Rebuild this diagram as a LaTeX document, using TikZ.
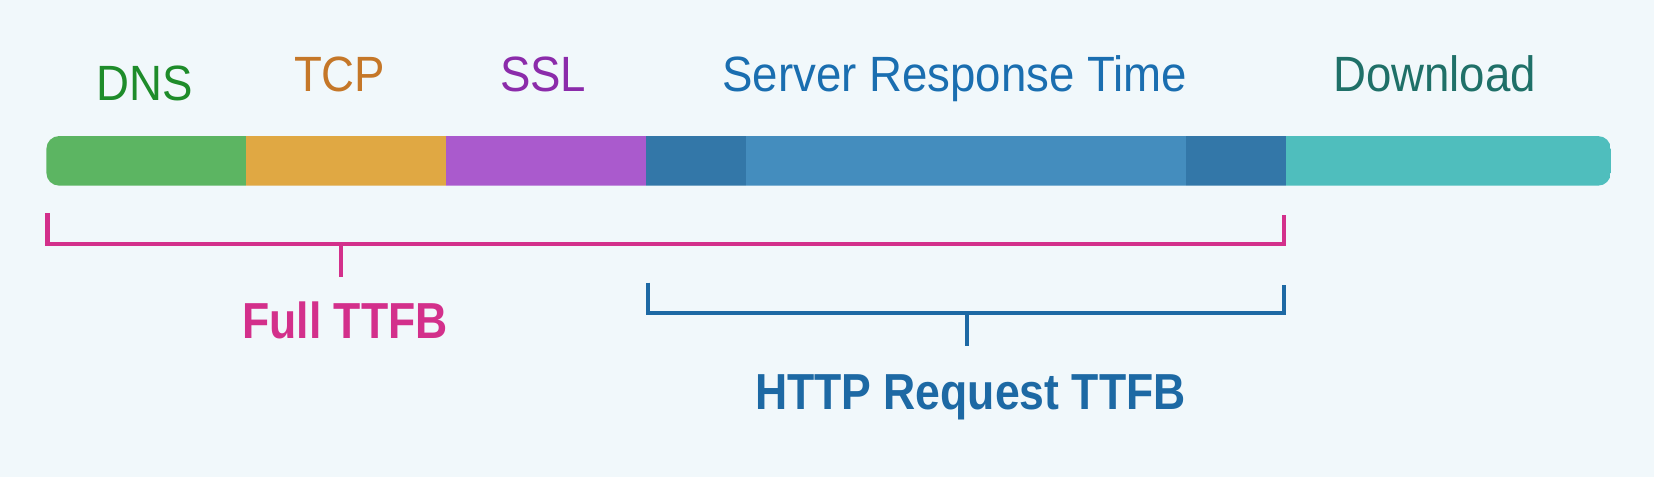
\documentclass[tikz,border=0pt]{standalone}
\usepackage{fontspec}
\setmainfont{Liberation Sans}[FakeStretch=0.92]
\newfontfamily\boldfam{Liberation Sans}[FakeStretch=0.88]
\definecolor{bgc}{HTML}{F1F8FB}
\definecolor{dnsT}{HTML}{1E8C2A}
\definecolor{tcpT}{HTML}{C57728}
\definecolor{sslT}{HTML}{8B2BAA}
\definecolor{srvT}{HTML}{1A6EB0}
\definecolor{dlT}{HTML}{1F7068}
\definecolor{dnsB}{HTML}{5CB562}
\definecolor{tcpB}{HTML}{E0A843}
\definecolor{sslB}{HTML}{AA5ACD}
\definecolor{srvD}{HTML}{3377A8}
\definecolor{srvM}{HTML}{448DBE}
\definecolor{dlB}{HTML}{4FBEBD}
\definecolor{pinkc}{HTML}{D3308B}
\definecolor{bluec}{HTML}{1D69A4}
\begin{document}
\begin{tikzpicture}[x=1pt,y=-1pt,
  lab/.style={anchor=base,inner sep=0pt,font=\fontsize{47}{52}\selectfont},
  blab/.style={anchor=base,inner sep=0pt,font=\fontsize{48}{54}\selectfont\boldfam\bfseries},
  brk/.style={line width=4pt,line cap=butt,line join=miter}]
\fill[bgc] (0,0) rectangle (1568,452.2);
\useasboundingbox (0,0) rectangle (1568,452.2);
% labels
\node[lab,text=dnsT] (dns) at (137,95) {DNS};
\node[lab,text=tcpT] (tcp) at (322,87) {TCP};
\node[lab,text=sslT] (ssl) at (515,87) {SSL};
\node[lab,text=srvT] (srv) at (905,87) {Server Response Time};
\node[lab,text=dlT] (dl) at (1360,87) {Download};
% bar
\begin{scope}
\clip[rounded corners=12pt] (44,129) rectangle (1527,176);
\fill[tcpB] (233,129) rectangle (423,176);
\fill[sslB] (423,129) rectangle (612,176);
\fill[srvD] (612,129) rectangle (707,176);
\fill[srvM] (707,129) rectangle (1124,176);
\fill[srvD] (1124,129) rectangle (1219,176);
\fill[dlB] (1219,129) rectangle (1527,176);
\fill[dnsB] (44,129) rectangle (233,176);
\end{scope}
% Full TTFB bracket
\coordinate (fa) at (45,202);
\coordinate (fb) at (45,231);
\coordinate (fc) at (1217,231);
\coordinate (fd) at (1217,204);
\coordinate (fm) at (323,231);
\coordinate (fs) at (323,263);
\draw[brk,pinkc] (fa) -- (fb) -- (fc) -- (fd);
\draw[brk,pinkc] (fm) -- (fs);
\node[blab,text=pinkc] (full) at (327,321) {Full TTFB};
% HTTP bracket
\coordinate (ha) at (614,268);
\coordinate (hb) at (614,297);
\coordinate (hc) at (1217,297);
\coordinate (hd) at (1217,270);
\coordinate (hm) at (917,297);
\coordinate (hs) at (917,328);
\draw[brk,bluec] (ha) -- (hb) -- (hc) -- (hd);
\draw[brk,bluec] (hm) -- (hs);
\node[blab,text=bluec] (http) at (920,388) {HTTP Request TTFB};
\end{tikzpicture}
\end{document}
